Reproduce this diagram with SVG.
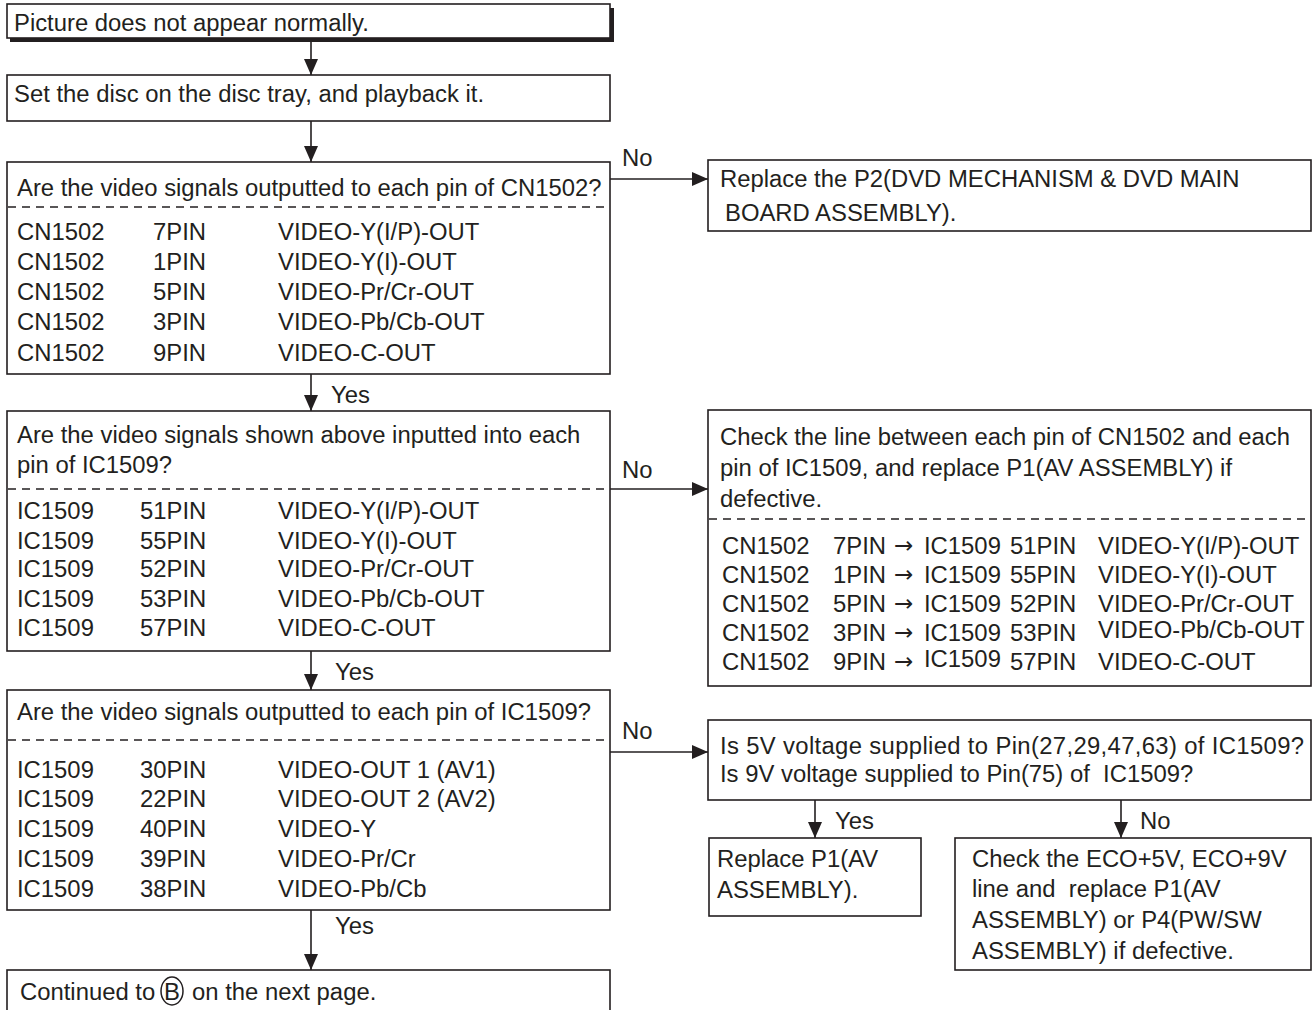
<svg xmlns="http://www.w3.org/2000/svg" width="1316" height="1010" viewBox="0 0 1316 1010">
<defs>
<style>
text{font-family:"Liberation Sans",Arial,Helvetica,sans-serif;font-size:23.85px;fill:#231f20}
.arr{font-family:"DejaVu Sans",sans-serif;font-size:23px}
.box{fill:#fff;stroke:#231f20;stroke-width:1.6}
.dash{stroke:#231f20;stroke-width:1.4;stroke-dasharray:8 6;fill:none}
.conn{stroke:#231f20;stroke-width:1.6;fill:none;marker-end:url(#ah)}
</style>
<marker id="ah" markerUnits="userSpaceOnUse" markerWidth="16" markerHeight="16" refX="16" refY="7" orient="auto">
<path d="M0,0 L16,7 L0,14 z" fill="#231f20"/>
</marker>
</defs>
<rect width="1316" height="1010" fill="#fff"/>

<g id="connectors">
<line class="conn" x1="311" y1="42" x2="311" y2="75"/>
<line class="conn" x1="311" y1="121" x2="311" y2="162"/>
<line class="conn" x1="311" y1="374" x2="311" y2="411"/>
<line class="conn" x1="311" y1="651" x2="311" y2="690"/>
<line class="conn" x1="311" y1="910" x2="311" y2="970"/>
<line class="conn" x1="610" y1="179" x2="708" y2="179"/>
<line class="conn" x1="610" y1="489" x2="708" y2="489"/>
<line class="conn" x1="610" y1="752" x2="708" y2="752"/>
<line class="conn" x1="815" y1="800" x2="815" y2="838"/>
<line class="conn" x1="1121" y1="800" x2="1121" y2="838"/>
<text x="622" y="166">No</text>
<text x="331" y="403">Yes</text>
<text x="622" y="478">No</text>
<text x="335" y="680">Yes</text>
<text x="622" y="739">No</text>
<text x="335" y="934">Yes</text>
<text x="835" y="829">Yes</text>
<text x="1140" y="829">No</text>
</g>

<g id="start">
<rect x="10" y="8" width="604" height="34" fill="#231f20"/>
<rect class="box" x="7" y="4" width="603" height="34"/>
<text x="14" y="31">Picture does not appear normally.</text>
</g>

<g id="set-disc">
<rect class="box" x="7" y="75" width="603" height="46"/>
<text x="14" y="102">Set the disc on the disc tray, and playback it.</text>
</g>

<g id="q-cn1502">
<rect class="box" x="7" y="162" width="603" height="212"/>
<text x="17" y="195.5">Are the video signals outputted to each pin of CN1502?</text>
<line class="dash" x1="8" y1="207" x2="610" y2="207"/>
<text x="17" y="239.5">CN1502</text><text x="153" y="239.5">7PIN</text><text x="278" y="239.5">VIDEO-Y(I/P)-OUT</text>
<text x="17" y="269.5">CN1502</text><text x="153" y="269.5">1PIN</text><text x="278" y="269.5">VIDEO-Y(I)-OUT</text>
<text x="17" y="299.5">CN1502</text><text x="153" y="299.5">5PIN</text><text x="278" y="299.5">VIDEO-Pr/Cr-OUT</text>
<text x="17" y="329.5">CN1502</text><text x="153" y="329.5">3PIN</text><text x="278" y="329.5">VIDEO-Pb/Cb-OUT</text>
<text x="17" y="360.5">CN1502</text><text x="153" y="360.5">9PIN</text><text x="278" y="360.5">VIDEO-C-OUT</text>
</g>

<g id="replace-p2">
<rect class="box" x="708" y="160" width="603" height="71"/>
<text x="720" y="186.5">Replace the P2(DVD MECHANISM &amp; DVD MAIN</text>
<text x="725" y="220.5">BOARD ASSEMBLY).</text>
</g>

<g id="q-ic1509-in">
<rect class="box" x="7" y="411" width="603" height="240"/>
<text x="17" y="442.5">Are the video signals shown above inputted into each</text>
<text x="17" y="472.5">pin of IC1509?</text>
<line class="dash" x1="8" y1="489" x2="610" y2="489"/>
<text x="17" y="518.5">IC1509</text><text x="140" y="518.5">51PIN</text><text x="278" y="518.5">VIDEO-Y(I/P)-OUT</text>
<text x="17" y="548.5">IC1509</text><text x="140" y="548.5">55PIN</text><text x="278" y="548.5">VIDEO-Y(I)-OUT</text>
<text x="17" y="576.5">IC1509</text><text x="140" y="576.5">52PIN</text><text x="278" y="576.5">VIDEO-Pr/Cr-OUT</text>
<text x="17" y="606.5">IC1509</text><text x="140" y="606.5">53PIN</text><text x="278" y="606.5">VIDEO-Pb/Cb-OUT</text>
<text x="17" y="635.5">IC1509</text><text x="140" y="635.5">57PIN</text><text x="278" y="635.5">VIDEO-C-OUT</text>
</g>

<g id="check-line">
<rect class="box" x="708" y="410" width="603" height="276"/>
<text x="720" y="444.5">Check the line between each pin of CN1502 and each</text>
<text x="720" y="475.5">pin of IC1509, and replace P1(AV ASSEMBLY) if</text>
<text x="720" y="506.5">defective.</text>
<line class="dash" x1="709" y1="519" x2="1311" y2="519"/>
<text x="722" y="553.5">CN1502</text><text x="833" y="553.5">7PIN</text><text class="arr" x="894" y="553">→</text><text x="924" y="553.5">IC1509</text><text x="1010" y="553.5">51PIN</text><text x="1098" y="553.5">VIDEO-Y(I/P)-OUT</text>
<text x="722" y="582.5">CN1502</text><text x="833" y="582.5">1PIN</text><text class="arr" x="894" y="582">→</text><text x="924" y="582.5">IC1509</text><text x="1010" y="582.5">55PIN</text><text x="1098" y="582.5">VIDEO-Y(I)-OUT</text>
<text x="722" y="611.5">CN1502</text><text x="833" y="611.5">5PIN</text><text class="arr" x="894" y="611">→</text><text x="924" y="611.5">IC1509</text><text x="1010" y="611.5">52PIN</text><text x="1098" y="611.5">VIDEO-Pr/Cr-OUT</text>
<text x="722" y="640.5">CN1502</text><text x="833" y="640.5">3PIN</text><text class="arr" x="894" y="640">→</text><text x="924" y="640.5">IC1509</text><text x="1010" y="640.5">53PIN</text><text x="1098" y="637.5">VIDEO-Pb/Cb-OUT</text>
<text x="722" y="669.5">CN1502</text><text x="833" y="669.5">9PIN</text><text class="arr" x="894" y="669">→</text><text x="924" y="666.5">IC1509</text><text x="1010" y="669.5">57PIN</text><text x="1098" y="669.5">VIDEO-C-OUT</text>
</g>

<g id="q-ic1509-out">
<rect class="box" x="7" y="690" width="603" height="220"/>
<text x="17" y="719.5">Are the video signals outputted to each pin of IC1509?</text>
<line class="dash" x1="8" y1="740" x2="610" y2="740"/>
<text x="17" y="777.5">IC1509</text><text x="140" y="777.5">30PIN</text><text x="278" y="777.5">VIDEO-OUT 1 (AV1)</text>
<text x="17" y="806.5">IC1509</text><text x="140" y="806.5">22PIN</text><text x="278" y="806.5">VIDEO-OUT 2 (AV2)</text>
<text x="17" y="836.5">IC1509</text><text x="140" y="836.5">40PIN</text><text x="278" y="836.5">VIDEO-Y</text>
<text x="17" y="866.5">IC1509</text><text x="140" y="866.5">39PIN</text><text x="278" y="866.5">VIDEO-Pr/Cr</text>
<text x="17" y="896.5">IC1509</text><text x="140" y="896.5">38PIN</text><text x="278" y="896.5">VIDEO-Pb/Cb</text>
</g>

<g id="q-voltage">
<rect class="box" x="708" y="720" width="603" height="80"/>
<text x="720" y="753.5" textLength="584" lengthAdjust="spacing">Is 5V voltage supplied to Pin(27,29,47,63) of IC1509?</text>
<text x="720" y="781.5" xml:space="preserve">Is 9V voltage supplied to Pin(75) of  IC1509?</text>
</g>

<g id="replace-p1">
<rect class="box" x="709" y="838" width="212" height="78"/>
<text x="717" y="866.5">Replace P1(AV</text>
<text x="717" y="897.5">ASSEMBLY).</text>
</g>

<g id="check-eco">
<rect class="box" x="955" y="838" width="356" height="132"/>
<text x="972" y="866.5">Check the ECO+5V, ECO+9V</text>
<text x="972" y="896.5" xml:space="preserve">line and  replace P1(AV</text>
<text x="972" y="927.5">ASSEMBLY) or P4(PW/SW</text>
<text x="972" y="958.5">ASSEMBLY) if defective.</text>
</g>

<g id="continued">
<rect class="box" x="7" y="970" width="603" height="50"/>
<text x="20" y="999.5">Continued to</text>
<ellipse cx="172" cy="991" rx="11" ry="14" fill="none" stroke="#231f20" stroke-width="1.5"/>
<text x="172" y="999.5" text-anchor="middle">B</text>
<text x="192" y="999.5">on the next page.</text>
</g>
</svg>
